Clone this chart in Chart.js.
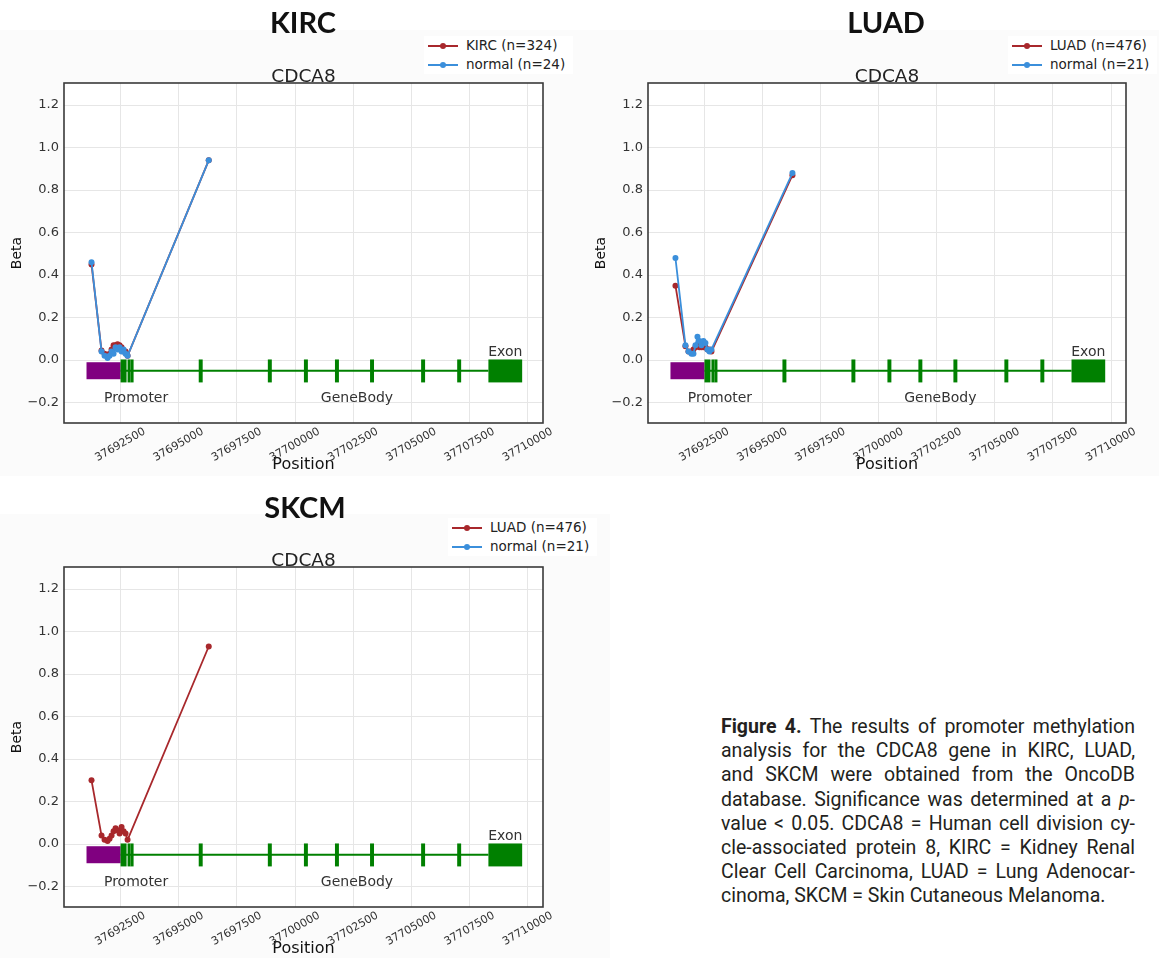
<!DOCTYPE html>
<html lang="en">
<head>
<meta charset="UTF-8">
<title>CDCA8 promoter methylation</title>
<script src="https://cdn.jsdelivr.net/npm/chart.js"></script>
<style>
    body { margin: 0; background: white; width: 1159px; height: 958px; position: relative; overflow: hidden; font-family: "DejaVu Sans", sans-serif; }
    canvas { position: absolute; background: #fbfbfb; }
    .panel-title { position: absolute; z-index: 2; font-family: Lato, sans-serif; font-weight: 700; font-size: 29px; line-height: 1; color: #111; transform: translateX(-50%); }
    .legend { position: absolute; z-index: 2; background: white; font-size: 13.5px; color: #222; padding: 0 8px 0 4px; }
    .legend div { height: 19px; line-height: 19px; white-space: nowrap; }
    .swatch { display: inline-block; width: 30px; height: 2px; position: relative; vertical-align: middle; margin-right: 8px; }
    .swatch::after { content: ''; position: absolute; left: 12px; top: -2px; width: 6px; height: 6px; border-radius: 50%; background: inherit; }
    .caption { position: absolute; left: 721px; top: 715px; width: 414px; font-family: Roboto, sans-serif; font-size: 19.5px; line-height: 24.2px; color: #231f20; }
    .caption div { text-align: justify; text-align-last: justify; white-space: nowrap; }
    .caption div.last { text-align-last: left; }
</style>
</head>
<body>

<canvas id="kirc" width="584" height="446" style="left:0; top:30px;"></canvas>
<canvas id="luad" width="575" height="446" style="left:584px; top:30px;"></canvas>
<canvas id="skcm" width="610" height="446" style="left:0; top:514px;"></canvas>

<div class="panel-title" style="left:303px; top:7px;">KIRC</div>
<div class="panel-title" style="left:886px; top:7px;">LUAD</div>
<div class="panel-title" style="left:305px; top:492px;">SKCM</div>

<div class="legend" style="left:424px; top:36px;">
    <div><span class="swatch" style="background:#a8282c"></span>KIRC (n=324)</div>
    <div><span class="swatch" style="background:#3b8fdb"></span>normal (n=24)</div>
</div>
<div class="legend" style="left:1008px; top:36px;">
    <div><span class="swatch" style="background:#a8282c"></span>LUAD (n=476)</div>
    <div><span class="swatch" style="background:#3b8fdb"></span>normal (n=21)</div>
</div>
<div class="legend" style="left:448px; top:518px;">
    <div><span class="swatch" style="background:#a8282c"></span>LUAD (n=476)</div>
    <div><span class="swatch" style="background:#3b8fdb"></span>normal (n=21)</div>
</div>

<div class="caption">
    <div><b>Figure 4.</b> The results of promoter methylation</div>
    <div>analysis for the CDCA8 gene in KIRC, LUAD,</div>
    <div>and SKCM were obtained from the OncoDB</div>
    <div>database. Significance was determined at a <i>p</i>-</div>
    <div>value &lt; 0.05. CDCA8 = Human cell division cy-</div>
    <div>cle-associated protein 8, KIRC = Kidney Renal</div>
    <div>Clear Cell Carcinoma, LUAD = Lung Adenocar-</div>
    <div class="last">cinoma, SKCM = Skin Cutaneous Melanoma.</div>
</div>

<script>
    // probe positions (bp) shared by all three panels
    const probePos = [37691252, 37691682, 37691812, 37691941, 37692027, 37692113, 37692199, 37692285,
                      37692371, 37692457, 37692543, 37692629, 37692715, 37692801, 37696287];

    // beta values per probe
    const kircTumor  = [0.45, 0.045, 0.03, 0.02, 0.03, 0.05, 0.07, 0.07, 0.075, 0.07, 0.06, 0.04, 0.04, 0.02, 0.94];
    const kircNormal = [0.46, 0.04, 0.02, 0.01, 0.02, 0.04, 0.03, 0.06, 0.05, 0.06, 0.04, 0.05, 0.03, 0.02, 0.94];
    const luadTumor  = [0.35, 0.065, 0.04, 0.04, 0.05, 0.06, 0.07, 0.06, 0.06, 0.06, 0.06, 0.05, 0.05, 0.04, 0.87];
    const luadNormal = [0.48, 0.07, 0.04, 0.03, 0.03, 0.07, 0.11, 0.09, 0.07, 0.09, 0.08, 0.05, 0.04, 0.05, 0.88];
    const skcmTumor  = [0.30, 0.04, 0.02, 0.015, 0.025, 0.04, 0.06, 0.075, 0.065, 0.05, 0.08, 0.06, 0.05, 0.02, 0.93];
    const skcmNormal = [];

    // axis ticks
    const xTicks = [37692500, 37695000, 37697500, 37700000, 37702500, 37705000, 37707500, 37710000];
    const yTicks = [-0.2, 0, 0.2, 0.4, 0.6, 0.8, 1.0, 1.2];

    // gene structure (bp)
    const promoter = [37691037, 37692500];
    const backboneEnd = 37708300;
    const exonStart = [37692500, 37692801, 37692930, 37695857, 37698826, 37700376, 37701709, 37703216, 37705410, 37706959, 37708300];
    const exonEnd   = [37692758, 37692887, 37693059, 37696027, 37698996, 37700546, 37701879, 37703386, 37705580, 37707129, 37709750];
    const regionNames = ['Promoter', 'GeneBody', 'Exon'];
    const regionX = [37693167, 37702655, 37709024];
    const regionY = [-0.18, -0.18, 0.035];

    const RED = '#a8282c';
    const BLUE = '#3b8fdb';
    const FONT = '"DejaVu Sans", sans-serif';

    // promoter box, backbone, exons and region names
    const genePlugin = {
        id: 'gene',
        beforeDatasetsDraw(chart) {
            const { ctx, scales: { x, y } } = chart;
            ctx.save();
            ctx.strokeStyle = '#008000';
            ctx.lineWidth = 2;
            ctx.beginPath();
            ctx.moveTo(x.getPixelForValue(promoter[1]), y.getPixelForValue(-0.05));
            ctx.lineTo(x.getPixelForValue(backboneEnd), y.getPixelForValue(-0.05));
            ctx.stroke();

            ctx.fillStyle = '#800080';
            let x0 = x.getPixelForValue(promoter[0]), x1 = x.getPixelForValue(promoter[1]);
            let y0 = y.getPixelForValue(-0.01), y1 = y.getPixelForValue(-0.09);
            ctx.fillRect(x0, y0, x1 - x0, y1 - y0);

            ctx.fillStyle = '#008000';
            y0 = y.getPixelForValue(0.003);
            y1 = y.getPixelForValue(-0.105);
            exonStart.forEach((s, i) => {
                x0 = x.getPixelForValue(s);
                x1 = x.getPixelForValue(exonEnd[i]);
                ctx.fillRect(x0, y0, Math.max(x1 - x0, 3), y1 - y0);
            });

            ctx.fillStyle = '#333';
            ctx.font = '14px ' + FONT;
            ctx.textAlign = 'center';
            ctx.textBaseline = 'middle';
            regionNames.forEach((t, i) => {
                ctx.fillText(t, x.getPixelForValue(regionX[i]), y.getPixelForValue(regionY[i]));
            });
            ctx.restore();
        }
    };

    // white plot area, dark frame and the gene name above it
    const framePlugin = {
        id: 'frame',
        beforeDraw(chart) {
            const { ctx, chartArea: a } = chart;
            ctx.save();
            ctx.fillStyle = 'white';
            ctx.fillRect(a.left, a.top, a.right - a.left, a.bottom - a.top);
            ctx.restore();
        },
        afterDraw(chart) {
            const { ctx, chartArea: a } = chart;
            ctx.save();
            ctx.strokeStyle = '#3a3a3a';
            ctx.lineWidth = 1.6;
            ctx.strokeRect(a.left, a.top, a.right - a.left, a.bottom - a.top);
            ctx.fillStyle = '#222';
            ctx.font = '18.5px ' + FONT;
            ctx.textAlign = 'center';
            ctx.textBaseline = 'alphabetic';
            ctx.fillText('CDCA8', (a.left + a.right) / 2, a.top - 1);
            ctx.restore();
        }
    };

    function toPoints(vals) {
        return vals.map((v, i) => ({ x: probePos[i], y: v }));
    }

    function makeChart(id, tumorLabel, tumorVals, normalVals, padRight) {
        const series = (label, vals, color, order) => ({
            label: label,
            data: toPoints(vals),
            showLine: true,
            borderColor: color,
            backgroundColor: color,
            borderWidth: 1.8,
            pointRadius: 3,
            pointBorderWidth: 0,
            order: order
        });
        return new Chart(document.getElementById(id), {
            type: 'scatter',
            data: {
                datasets: [
                    series(tumorLabel, tumorVals, RED, 2),
                    series('normal', normalVals, BLUE, 1)
                ]
            },
            options: {
                responsive: false,
                animation: false,
                layout: { padding: { left: 0, top: 53, right: padRight, bottom: 0 } },
                plugins: { legend: { display: false }, tooltip: { enabled: false } },
                scales: {
                    x: {
                        type: 'linear',
                        min: 37690070,
                        max: 37710645,
                        afterBuildTicks: s => { s.ticks = xTicks.map(v => ({ value: v })); },
                        afterFit: s => { s.height = 53; },
                        grid: { color: '#e6e6e6', drawTicks: false },
                        border: { display: false },
                        ticks: {
                            autoSkip: false, minRotation: 30, maxRotation: 30, labelOffset: 24, padding: 2,
                            color: '#333', font: { family: FONT, size: 11 },
                            callback: v => String(v)
                        },
                        title: { display: true, text: 'Position', color: '#111', font: { family: FONT, size: 16 }, padding: { top: 0, bottom: 2 } }
                    },
                    y: {
                        min: -0.296,
                        max: 1.304,
                        afterBuildTicks: s => { s.ticks = yTicks.map(v => ({ value: v })); },
                        afterFit: s => { s.width = 64; },
                        grid: { color: '#e6e6e6', drawTicks: false },
                        border: { display: false },
                        ticks: {
                            padding: 5, color: '#333', font: { family: FONT, size: 13 },
                            callback: v => (Math.abs(v) < 1e-9 ? 0 : v).toFixed(1).replace('-', '\u2212')
                        },
                        title: { display: true, text: 'Beta', color: '#111', font: { family: FONT, size: 14 }, padding: { top: 9, bottom: 0 } }
                    }
                }
            },
            plugins: [framePlugin, genePlugin]
        });
    }

    makeChart('kirc', 'KIRC (n=324)', kircTumor, kircNormal, 41);
    makeChart('luad', 'LUAD (n=476)', luadTumor, luadNormal, 33);
    makeChart('skcm', 'LUAD (n=476)', skcmTumor, skcmNormal, 67);
</script>
</body>
</html>
